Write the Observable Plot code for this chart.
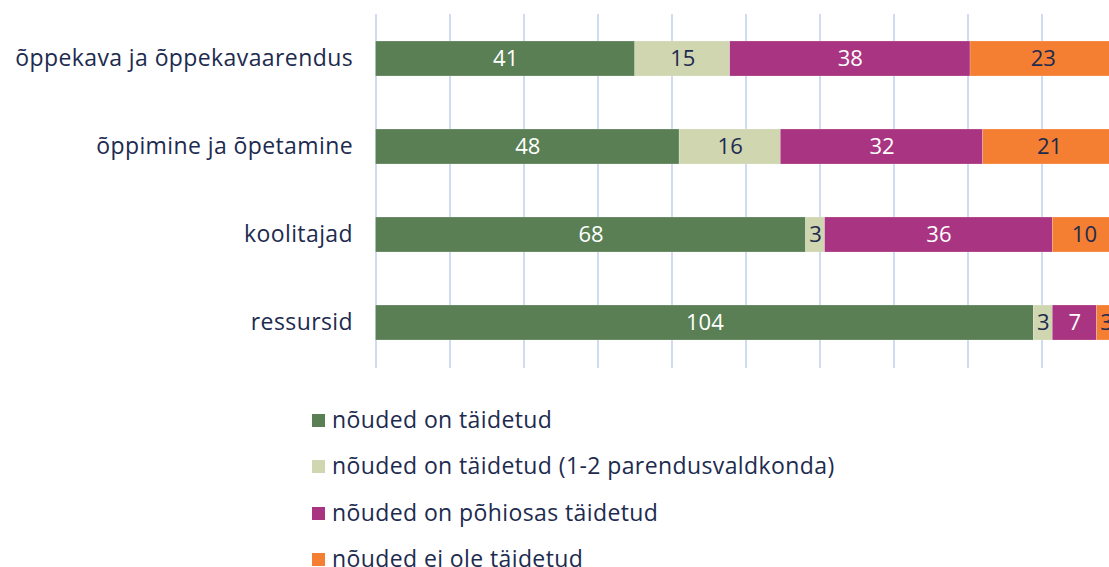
<!DOCTYPE html>
<html>
<head>
<meta charset="utf-8">
<script src="https://cdn.jsdelivr.net/npm/d3@7"></script>
<script src="https://cdn.jsdelivr.net/npm/@observablehq/plot@0.6"></script>
<style>
  html, body { margin: 0; padding: 0; background: #fff; overflow: hidden; }
  body { width: 1109px; height: 567px; position: relative; font-family: "Open Sans", Lato, sans-serif; color: #1d2b4f; }
  #chart { position: absolute; left: 0; top: 0; }
  #chart svg { max-width: none !important; }
  #legend { position: absolute; left: 312px; top: 396px; }
  .item { display: flex; align-items: center; height: 46.5px; font-size: 23px; letter-spacing: 0.4px; line-height: 1; white-space: nowrap; }
  .item .sw { width: 13px; height: 13px; margin-right: 7px; margin-top: 2px; }
</style>
</head>
<body>
<div id="chart"></div>
<div id="legend"></div>
<script>
const categories = ["õppekava ja õppekavaarendus", "õppimine ja õpetamine", "koolitajad", "ressursid"];
const seriesNames = [
  "nõuded on täidetud",
  "nõuded on täidetud (1-2 parendusvaldkonda)",
  "nõuded on põhiosas täidetud",
  "nõuded ei ole täidetud"
];
const seriesColors = ["#5a7f55", "#cfd6b0", "#a93582", "#f47e32"];
const met = [41, 48, 68, 104];
const metMinor = [15, 16, 3, 3];
const mostlyMet = [38, 32, 36, 7];
const notMet = [23, 21, 10, 3];
const xMax = 117;
const gridTicks = d3.range(0, 11).map(i => i * xMax / 10);

const seriesValues = [met, metMinor, mostlyMet, notMet];
const data = [];
seriesValues.forEach((vals, si) => {
  vals.forEach((v, ci) => data.push({cat: categories[ci], series: seriesNames[si], si, value: v}));
});

const font = "'Open Sans', Lato, sans-serif";
const chart = Plot.plot({
  width: 1116,
  height: 380,
  marginLeft: 375.5,
  marginRight: 0.5,
  marginTop: 14,
  marginBottom: 12,
  style: {fontFamily: font, fontSize: "22px", color: "#1d2b4f", background: "#fff", maxWidth: "none"},
  x: {domain: [0, xMax], axis: null},
  y: {domain: categories, paddingInner: 0.6, paddingOuter: 0.3, label: null},
  color: {domain: seriesNames, range: seriesColors},
  marks: [
    Plot.ruleX(gridTicks, {stroke: "#cfdbf1", strokeWidth: 2}),
    Plot.barX(data, Plot.stackX({x: "value", y: "cat", fill: "series", stroke: "#ffffff", strokeWidth: 0.4, strokeOpacity: 0.5})),
    Plot.text(data, Plot.filter(d => d.si === 0 || d.si === 2, Plot.stackX({x: "value", y: "cat", text: d => String(d.value), fill: "#ffffff", fontSize: 22}))),
    Plot.text(data, Plot.filter(d => d.si === 1 || d.si === 3, Plot.stackX({x: "value", y: "cat", text: d => String(d.value), fill: "#1d2b4f", fontSize: 22}))),
    Plot.axisY({tickSize: 0, tickPadding: 23, fontSize: 23, fill: "#1d2b4f", label: null})
  ]
});
chart.style.maxWidth = "none";
chart.querySelectorAll("g[aria-label='y-axis tick label'] text").forEach(t => t.setAttribute("letter-spacing", "0.4"));
document.getElementById("chart").appendChild(chart);

const legend = document.getElementById("legend");
seriesNames.forEach((name, i) => {
  const item = document.createElement("div");
  item.className = "item";
  const sw = document.createElement("span");
  sw.className = "sw";
  sw.style.background = seriesColors[i];
  const label = document.createElement("span");
  label.textContent = name;
  item.appendChild(sw);
  item.appendChild(label);
  legend.appendChild(item);
});
</script>
</body>
</html>
